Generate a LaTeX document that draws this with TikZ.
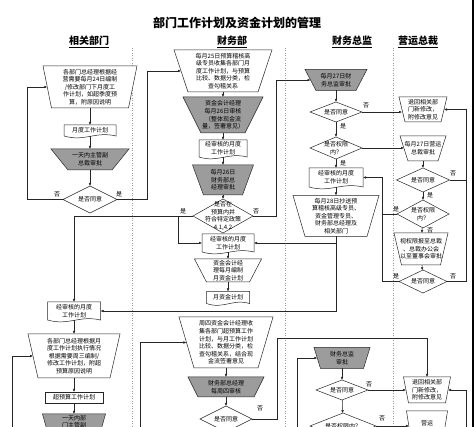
\documentclass[tikz,border=0pt]{standalone}
\usepackage{fontspec}
\setmainfont{Noto Sans CJK SC}
\usetikzlibrary{shapes.geometric,arrows.meta,calc}
\definecolor{boxgray}{RGB}{156,156,156}
\newcommand{\tx}{\fontsize{6}{7.6}\selectfont}

\begin{document}
\begin{tikzpicture}[x=1pt,y=-1pt,
  line/.style={draw=black!85,line width=0.5pt},
  arr/.style={line,-{Latex[length=3pt,width=2.6pt]}},
  lane/.style={draw=black!40,line width=0.4pt,dash pattern=on 1pt off 1.5pt},
  io/.style={trapezium,shape border rotate=180,draw=black!85,line width=0.5pt,fill=white,outer sep=0pt},
  grayio/.style={io,fill=boxgray},
  dec/.style={diamond,draw=black!85,line width=0.5pt,fill=white,inner sep=0pt,outer sep=0pt},
  doc/.style={rectangle,inner sep=0pt,outer sep=0pt,align=center,font=\tx},
  plain/.style={rectangle,draw=black!85,line width=0.5pt,inner sep=0pt,outer sep=0pt,align=center,font=\tx},
  every label/.style={align=center,font=\tx,inner sep=0pt},
  yn/.style={font=\tx,inner sep=0pt},
  head/.style={font=\bfseries\fontsize{10}{12}\selectfont,inner sep=0pt}]
\useasboundingbox (0,0) rectangle (474,427);
\clip (0,0) rectangle (474,427);
\fill[white] (0,0) rectangle (474,427);

% draw title and lanes
\node[font=\bfseries\fontsize{12}{14}\selectfont,inner sep=0pt] (title) at (237,23) {部门工作计划及资金计划的管理};
\node[head] (h1) at (89,42) {\underline{相关部门}};
\node[head] (h2) at (232,42) {\underline{财务部}};
\node[head] (h3) at (352,42) {\underline{财务总监}};
\node[head] (h4) at (418,42) {\underline{营运总裁}};

\foreach \x in {132,285,393}
\draw[lane] (\x,48) -- (\x,427);
\draw[line width=2pt] (472.5,0) -- (472.5,427);

% draw nodes
% lane 1
\node[io,inner xsep=38.5,inner ysep=21,trapezium angle=78.6,
  label={center:{各部门总经理根据经\\营需要每月24日编制\\/修改部门下月度工\\作计划，如超季度预\\算，附原因说明}}] (A1) at (90,87) {};
\node[doc,minimum width=52,minimum height=11] (A2) at (90,130.5) {月度工作计划};
\node[grayio,inner xsep=22,inner ysep=10.5,trapezium angle=51,
  label={center:{一天内主管副\\总裁审批}}] (A3) at (90,159.5) {};
\node[dec,minimum width=54,minimum height=27,label={center:{是否同意}}] (A4) at (90,199.5) {};
\node[doc,minimum width=53,minimum height=18] (A5) at (74,311) {经审核的月度\\工作计划};
\node[io,inner xsep=36,inner ysep=22,trapezium angle=77.2,
  label={center:{各部门总经理根据月\\度工作计划执行情况\\根据需要周三编制/\\修改工作计划，附超\\预算原因说明}}] (A6) at (74,356) {};
\node[plain,minimum width=58,minimum height=11] (A7) at (74,397.5) {超预算工作计划};
\node[grayio,inner xsep=22.5,inner ysep=16,trapezium angle=74.3,
  label={[yshift=4.5pt]center:{一天内部\\门主管副\\总裁审批}}] (A8) at (74,430) {};

% lane 2
\node[io,inner xsep=35,inner ysep=21,trapezium angle=71.6,
  label={center:{每月25日预算稽核高\\级专员收集各部门月\\度工作计划，与预算\\比较、数据分类，检\\查勾稽关系}}] (B1) at (223,71) {};
\node[grayio,inner xsep=22,inner ysep=18,trapezium angle=63.4,
  label={center:{资金会计经理\\每月26日审核\\（整体现金流\\量，签署意见）}}] (B2) at (223,115) {};
\node[doc,minimum width=48,minimum height=17] (B3) at (223,148.5) {经审核的月度\\工作计划};
\node[grayio,inner xsep=19.5,inner ysep=15,trapezium angle=69.9,
  label={center:{每月26日\\财务部总\\经理审批}}] (B4) at (223,180) {};
\node[dec,minimum width=60,minimum height=34,
  label={center:{是否在\\预算内并\\符合特定政策\\4.1,4.2}}] (B5) at (223,216) {};
\node[doc,minimum width=52,minimum height=18] (B6) at (228,243) {经审核的月度\\工作计划};
\node[io,inner xsep=21.5,inner ysep=11.5,trapezium angle=62.4,
  label={center:{资金会计经\\理每月编制\\月资金计划}}] (B7) at (228,270.5) {};
\node[doc,minimum width=43,minimum height=12] (B8) at (228,297.5) {月资金计划};
\node[io,inner xsep=32,inner ysep=25.5,trapezium angle=73.6,
  label={center:{周四资金会计经理收\\集各部门超预算工作\\计划，与月工作计划\\比较、数据分类，检\\查勾稽关系，结合现\\金流签署意见}}] (B9) at (226,342.5) {};
\node[grayio,inner xsep=28,inner ysep=10,trapezium angle=63.4,
  label={center:{财务部总经理\\每周四审核}}] (B10) at (226,387) {};
\node[dec,minimum width=52,minimum height=26,label={center:{是否同意}}] (B11) at (226,419) {};

% lane 3
\node[grayio,inner xsep=20,inner ysep=10.5,trapezium angle=62.4,
  label={center:{每月27日财\\务总监审批}}] (C1) at (336,80) {};
\node[dec,minimum width=52,minimum height=20,label={center:{是否同意}}] (C2) at (336,112) {};
\node[dec,minimum width=52,minimum height=22,label={center:{是否权限\\内？}}] (C3) at (336,148) {};
\node[doc,minimum width=54,minimum height=19] (C4) at (336,177.5) {经审核的月度\\工作计划};
\node[io,inner xsep=31,inner ysep=20.5,trapezium angle=73.7,
  label={center:{每月28日抄送预\\算稽核高级专员、\\资金管理专员、\\财务部总经理及\\相关部门}}] (C5) at (336,216) {};
\node[grayio,inner xsep=21.5,inner ysep=10.5,trapezium angle=72.8,
  label={center:{财务总监\\审批}}] (C6) at (342,358) {};
\node[dec,minimum width=52,minimum height=20,label={center:{是否同意}}] (C7) at (342,390) {};
\node[dec,minimum width=66,minimum height=26,label={center:{是否权限内？}}] (C8) at (343,426) {};

% lane 4
\node[io,inner xsep=18,inner ysep=12.5,trapezium angle=76.5,
  label={center:{退回相关部\\门新修改，\\附修改意见}}] (D1) at (423,109.5) {};
\node[io,inner xsep=15,inner ysep=12.5,trapezium angle=72.3,
  label={center:{每月27日营运\\总裁审批}}] (D2) at (423,148.5) {};
\node[dec,minimum width=53,minimum height=24,label={center:{是否同意}}] (D3) at (423,180) {};
\node[dec,minimum width=52,minimum height=28,label={center:{是否权限\\内？}}] (D4) at (423,214) {};
\node[io,inner xsep=19.5,inner ysep=16,trapezium angle=76.8,
  label={center:{视权限报至总裁\\、总裁办公会\\以至董事会审批}}] (D5) at (421,249) {};
\node[dec,minimum width=48,minimum height=23,label={center:{是否同意}}] (D6) at (423,281.5) {};
\node[io,inner xsep=18.5,inner ysep=13,trapezium angle=79.1,
  label={center:{退回相关部\\门新修改，\\附修改意见}}] (D7) at (427,390) {};
\node[io,inner xsep=15.5,inner ysep=16,trapezium angle=81.1,
  label={center:{营运\\总裁审批}}] (D8) at (427,427) {};

% document outlines
\foreach \nm in {A2,A5,B3,B6,B8,C4}
\draw[line] (\nm.south west) -- (\nm.north west) -- (\nm.north east) -- (\nm.south east)
  .. controls ($(\nm.south east)!0.4!(\nm.south west)+(0,-5)$) and ($(\nm.south east)!0.6!(\nm.south west)+(0,6)$) .. (\nm.south west);

% free ends
\coordinate (b5l) at (178,216);
\coordinate (b11r) at (277,338);
\coordinate (a6in) at (12,440);
\coordinate (b9in) at (140,440);
\coordinate (c6in) at (297,440);
\coordinate (d7in) at (466,440);
\coordinate (d1r) at (466,109.5);
\coordinate (c4r) at (382,177.5);

% draw connectors
\draw[arr] (A1) -- (A2);
\draw[arr] (A2) -- (A3);
\draw[arr] (A3) -- (A4);
\draw[arr] (A4.west) -- ++(-36,0) |- (A1.west);
\draw[arr] (A4.east) -- ++(30,0) |- (B1.west);
\draw[arr] (A5) -- (A6);
\draw[arr] (A6) -- (A7);
\draw[arr] (A7) -- (A8);
\draw[arr] (a6in) |- (A6.west);

\draw[arr] (B1) -- (B2);
\draw[arr] (B2) -- (B3);
\draw[arr] (B3) -- (B4);
\draw[arr] (B4) -- (B5);
\draw[arr] (B5.west) -| (A5.north);
\draw[arr] (b5l) |- (B6.west);
\draw[arr] (B5.east) -- ++(23,0) |- (C1.west);
\draw[arr] (B6) -- (B7);
\draw[arr] (B7) -- (B8);
\draw[arr] (B9) -- (B10);
\draw[arr] (B10) -- (B11);
\draw[arr] (b9in) |- (B9.west);
\draw[arr] (B11.east) -| (b11r) -| (D7.north);

\draw[arr] (C1) -- (C2);
\draw[arr] (C2) -- (C3);
\draw[arr] (C3) -- (C4);
\draw[arr] (C4) -- (C5);
\draw[arr] (C2.east) -- (C2.east -| D1.west);
\draw[arr] (C3.east) -- (C3.east -| D2.west);
\draw[arr] (C5.south) |- (A5.east);
\draw[arr] (C5.south |- B6.east) -- (B6.east);
\draw[arr] (C6) -- (C7);
\draw[arr] (C7) -- (C8);
\draw[arr] (c6in) |- (C6.west);
\draw[arr] (C7.east) -- (C7.east -| D7.west);
\draw[arr] (C8.east) -- (C8.east -| D8.west);

\draw[arr] (D2) -- (D3);
\draw[arr] (D3) -- (D4);
\draw[arr] (D4) -- (D5);
\draw[arr] (D5) -- (D6);
\draw[arr] (D6.east) -| (d1r) -- (D1.east);
\draw[line] (D3.east) -- (D3.east -| d1r);
\draw[arr] (D6.west) -| (c4r) -- (C4.east);
\draw[line] (D4.west) -- (D4.west -| c4r);
\draw[arr] (d7in) |- (D7.east);

% yes / no
\node[yn] (n1) at (57,194) {否};
\node[yn] (n2) at (119,194) {是};
\node[yn] (n3) at (183,211) {是};
\node[yn] (n4) at (256,211) {否};
\node[yn] (n5) at (366,105) {否};
\node[yn] (n6) at (343,126) {是};
\node[yn] (n7) at (343,163) {是};
\node[yn] (n8) at (453,173) {否};
\node[yn] (n9) at (430,195) {是};
\node[yn] (n10) at (396,209) {是};
\node[yn] (n11) at (430,230) {否};
\node[yn] (n12) at (396,276) {是};
\node[yn] (n13) at (453,276) {否};
\node[yn] (n14) at (260,408) {否};
\node[yn] (n15) at (369,384) {否};
\node[yn] (n16) at (382,418) {否};

\end{tikzpicture}
\end{document}
